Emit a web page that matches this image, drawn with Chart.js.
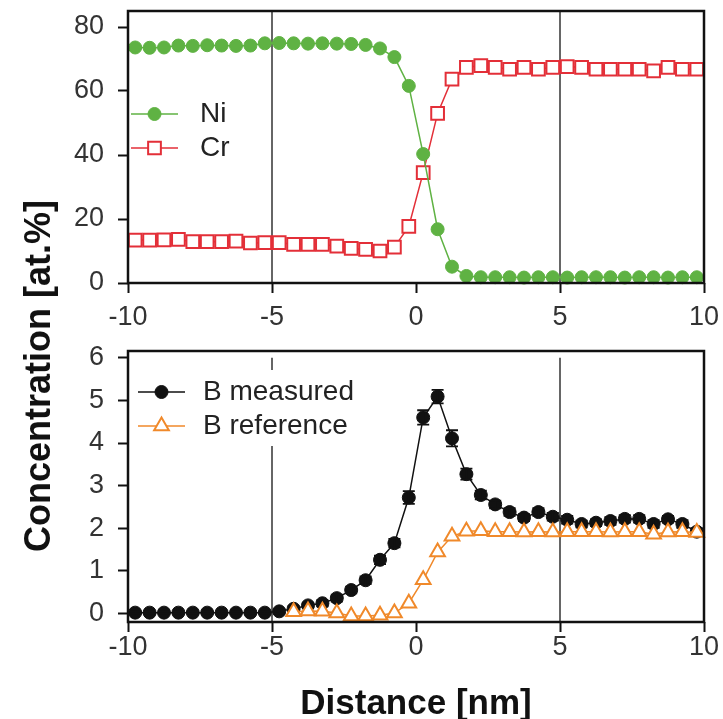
<!DOCTYPE html>
<html>
<head>
<meta charset="utf-8">
<title>Ni, Cr and B concentration profiles</title>
<script src="https://cdn.jsdelivr.net/npm/chart.js"></script>
<style>
  html, body { margin: 0; padding: 0; background: #fff; }
  #page { position: relative; width: 723px; height: 719px; overflow: hidden; }
  canvas { position: absolute; left: 0; }
  #cv-top { top: 0; }
  #cv-bottom { top: 330px; }
  #y-title {
    position: absolute; left: 38px; top: 376px;
    transform: translate(-50%, -50%) rotate(-90deg);
    font: bold 36px "Liberation Sans", Arial, sans-serif;
    color: #111; white-space: nowrap;
  }
</style>
</head>
<body>
<div id="page">
  <canvas id="cv-top" width="723" height="330"></canvas>
  <canvas id="cv-bottom" width="723" height="389"></canvas>
  <div id="y-title">Concentration [at.%]</div>
</div>
<script>
// profile positions (nm)
const DIST = [-9.75, -9.25, -8.75, -8.25, -7.75, -7.25, -6.75, -6.25, -5.75, -5.25,
              -4.75, -4.25, -3.75, -3.25, -2.75, -2.25, -1.75, -1.25, -0.75, -0.25,
               0.25,  0.75,  1.25,  1.75,  2.25,  2.75,  3.25,  3.75,  4.25,  4.75,
               5.25,  5.75,  6.25,  6.75,  7.25,  7.75,  8.25,  8.75,  9.25,  9.75];

// at.% — upper panel
const NI = [73.6, 73.5, 73.6, 74.2, 74.1, 74.3, 74.2, 74.1, 74.2, 74.9,
            75.0, 74.9, 74.8, 74.9, 74.8, 74.7, 74.4, 73.3, 70.6, 61.6,
            40.3, 16.8,  5.1,  2.2,  1.8,  1.8,  1.8,  1.7,  1.8,  1.8,
             1.7,  1.8,  1.8,  1.8,  1.7,  1.8,  1.8,  1.7,  1.8,  1.8];
const CR = [13.4, 13.4, 13.5, 13.6, 12.9, 12.9, 12.9, 13.1, 12.5, 12.6,
            12.6, 12.1, 12.1, 12.1, 11.5, 10.8, 10.5, 10.0, 11.2, 17.7,
            34.5, 53.0, 63.7, 67.4, 67.9, 67.4, 66.8, 67.4, 66.8, 67.4,
            67.6, 67.4, 66.8, 66.8, 66.8, 66.8, 66.3, 67.4, 66.8, 66.8];

// at.% — lower panel
const B_MEAS = [0.02, 0.02, 0.02, 0.02, 0.02, 0.02, 0.02, 0.02, 0.02, 0.02,
                0.05, 0.11, 0.19, 0.24, 0.36, 0.55, 0.78, 1.26, 1.65, 2.72,
                4.60, 5.09, 4.11, 3.27, 2.78, 2.56, 2.38, 2.25, 2.38, 2.27,
                2.20, 2.10, 2.13, 2.17, 2.22, 2.22, 2.10, 2.21, 2.10, 1.92];
const B_ERR = [0.03, 0.03, 0.03, 0.03, 0.03, 0.03, 0.03, 0.03, 0.03, 0.03,
               0.05, 0.06, 0.06, 0.07, 0.08, 0.08, 0.09, 0.10, 0.10, 0.15,
               0.17, 0.16, 0.19, 0.13, 0.10, 0.09, 0.09, 0.08, 0.09, 0.09,
               0.09, 0.08, 0.08, 0.09, 0.09, 0.09, 0.09, 0.08, 0.09, 0.08];
const B_REF = [null, null, null, null, null, null, null, null, null, null,
               null, 0.04, 0.06, 0.05, 0.01, -0.06, -0.06, -0.04, 0.01, 0.24,
               0.79, 1.44, 1.81, 1.93, 1.94, 1.92, 1.92, 1.91, 1.92, 1.91,
               1.92, 1.92, 1.92, 1.91, 1.92, 1.92, 1.86, 1.91, 1.92, 1.90];

const X_TICKS = [-10, -5, 0, 5, 10];
const Y_TICKS_TOP = [0, 20, 40, 60, 80];
const Y_TICKS_BOTTOM = [0, 1, 2, 3, 4, 5, 6];
const GUIDE_X = [-5, 5];

const FONT = '"Liberation Sans", Arial, sans-serif';
const GREEN = '#5fb243';
const RED = '#e32f38';
const ORANGE = '#f0892a';
const BLACK = '#111111';

Chart.defaults.font.family = FONT;
Chart.defaults.animation = false;

const pts = vals => DIST.map((x, i) => ({ x: x, y: vals[i] }));

// box round the plot area
const frame = {
  id: 'frame',
  afterDraw(chart) {
    const { ctx, chartArea: a } = chart;
    ctx.save();
    ctx.strokeStyle = BLACK;
    ctx.lineWidth = 2.5;
    ctx.strokeRect(a.left, a.top, a.right - a.left, a.bottom - a.top);
    ctx.restore();
  }
};

// thin vertical lines at +-5 nm
const guides = {
  id: 'guides',
  beforeDatasetsDraw(chart, args, opts) {
    const { ctx, chartArea: a, scales: { x, y } } = chart;
    const top = opts.from != null ? y.getPixelForValue(opts.from) : a.top;
    ctx.save();
    ctx.strokeStyle = '#333';
    ctx.lineWidth = 1.5;
    GUIDE_X.forEach(v => {
      const px = x.getPixelForValue(v);
      ctx.beginPath();
      ctx.moveTo(px, top);
      ctx.lineTo(px, a.bottom);
      ctx.stroke();
    });
    ctx.restore();
  }
};

// error bars for datasets that carry an `errors` array
const errorBars = {
  id: 'errorBars',
  afterDatasetDraw(chart, args) {
    const ds = chart.data.datasets[args.index];
    if (!ds.errors) return;
    const { ctx, scales: { x, y } } = chart;
    ctx.save();
    ctx.strokeStyle = ds.borderColor;
    ctx.lineWidth = 1.8;
    ds.data.forEach((p, j) => {
      const e = ds.errors[j];
      if (p.y == null || !e) return;
      const px = x.getPixelForValue(p.x);
      const hi = y.getPixelForValue(p.y + e);
      const lo = y.getPixelForValue(p.y - e);
      ctx.beginPath();
      ctx.moveTo(px, hi); ctx.lineTo(px, lo);
      ctx.moveTo(px - 6, hi); ctx.lineTo(px + 6, hi);
      ctx.moveTo(px - 6, lo); ctx.lineTo(px + 6, lo);
      ctx.stroke();
    });
    ctx.restore();
  }
};

// legend drawn inside the plot area
const insetLegend = {
  id: 'insetLegend',
  afterDatasetsDraw(chart, args, opts) {
    const ctx = chart.ctx;
    ctx.save();
    if (opts.box) {
      ctx.fillStyle = '#fff';
      ctx.fillRect(opts.box[0], opts.box[1], opts.box[2], opts.box[3]);
    }
    chart.data.datasets.forEach((ds, i) => {
      const ly = opts.rows[i];
      ctx.strokeStyle = ds.borderColor;
      ctx.lineWidth = ds.borderWidth;
      ctx.beginPath();
      ctx.moveTo(opts.lineFrom, ly);
      ctx.lineTo(opts.lineTo, ly);
      ctx.stroke();
      ctx.fillStyle = ds.pointBackgroundColor;
      ctx.strokeStyle = ds.pointBorderColor;
      ctx.lineWidth = ds.pointBorderWidth;
      Chart.helpers.drawPoint(ctx, {
        pointStyle: ds.pointStyle, radius: ds.pointRadius,
        rotation: 0, borderWidth: ds.pointBorderWidth
      }, (opts.lineFrom + opts.lineTo) / 2, ly);
      ctx.fillStyle = '#222';
      ctx.font = '28px ' + FONT;
      ctx.textAlign = 'left';
      ctx.textBaseline = 'middle';
      ctx.fillText(ds.label, opts.textX, ly);
    });
    ctx.restore();
  }
};

// label overflow must not push the plot area around
function noOverflow(s) {
  s.paddingTop = 0; s.paddingBottom = 0;
  s.paddingLeft = 0; s.paddingRight = 0;
}

function axes(yMin, yMax, yTicks, xHeight, xPad, withTitle) {
  return {
    x: {
      type: 'linear', min: -10, max: 10,
      afterBuildTicks: s => { s.ticks = X_TICKS.map(v => ({ value: v })); },
      afterFit: s => { s.height = xHeight; noOverflow(s); },
      grid: { drawOnChartArea: false, tickLength: 10, tickWidth: 2, tickColor: BLACK },
      border: { display: false },
      ticks: { color: '#333', padding: xPad, font: { size: 27, lineHeight: 0.8 } },
      title: {
        display: withTitle, text: 'Distance [nm]', color: '#111', padding: 0,
        font: { size: 35, weight: 'bold', lineHeight: 0.86 }
      }
    },
    y: {
      min: yMin, max: yMax,
      afterBuildTicks: s => { s.ticks = yTicks.map(v => ({ value: v })); },
      afterFit: s => { s.width = 128; noOverflow(s); },
      grid: { drawOnChartArea: false, tickLength: 10, tickWidth: 2, tickColor: BLACK },
      border: { display: false },
      ticks: { color: '#333', padding: 14, font: { size: 27, lineHeight: 0.8 } }
    }
  };
}

new Chart(document.getElementById('cv-top'), {
  type: 'line',
  data: {
    datasets: [{
      label: 'Ni', data: pts(NI), order: 0,
      borderColor: GREEN, borderWidth: 1.5,
      pointStyle: 'circle', pointRadius: 6.5,
      pointBackgroundColor: GREEN, pointBorderColor: GREEN, pointBorderWidth: 1,
      clip: false
    }, {
      label: 'Cr', data: pts(CR), order: 1,
      borderColor: RED, borderWidth: 1.5,
      pointStyle: 'rect', pointRadius: 9,
      pointBackgroundColor: '#fff', pointBorderColor: RED, pointBorderWidth: 2,
      clip: false
    }]
  },
  options: {
    responsive: false,
    devicePixelRatio: 1,
    layout: { padding: { top: 10, right: 19, bottom: 0, left: 0 } },
    scales: axes(0, 85, Y_TICKS_TOP, 47, 14, false),
    plugins: {
      legend: { display: false },
      tooltip: { enabled: false },
      guides: { from: null },
      insetLegend: { rows: [114, 148], lineFrom: 131, lineTo: 178, textX: 200, box: null }
    }
  },
  plugins: [guides, errorBars, insetLegend, frame]
});

new Chart(document.getElementById('cv-bottom'), {
  type: 'line',
  data: {
    datasets: [{
      label: 'B measured', data: pts(B_MEAS), errors: B_ERR, order: 1,
      borderColor: BLACK, borderWidth: 1.5,
      pointStyle: 'circle', pointRadius: 6.5,
      pointBackgroundColor: BLACK, pointBorderColor: BLACK, pointBorderWidth: 1,
      clip: false
    }, {
      label: 'B reference', data: pts(B_REF), order: 0,
      borderColor: ORANGE, borderWidth: 1.5,
      pointStyle: 'triangle', pointRadius: 8.5,
      pointBackgroundColor: '#fff', pointBorderColor: ORANGE, pointBorderWidth: 2,
      clip: false
    }]
  },
  options: {
    responsive: false,
    devicePixelRatio: 1,
    layout: { padding: { top: 21, right: 19, bottom: 0, left: 0 } },
    scales: axes(-0.2, 6.16, Y_TICKS_BOTTOM, 97, 5, true),
    plugins: {
      legend: { display: false },
      tooltip: { enabled: false },
      guides: { from: 6 },
      insetLegend: { rows: [62, 96], lineFrom: 138, lineTo: 185, textX: 203, box: [131, 40, 240, 76] }
    }
  },
  plugins: [guides, errorBars, insetLegend, frame]
});
</script>
</body>
</html>
